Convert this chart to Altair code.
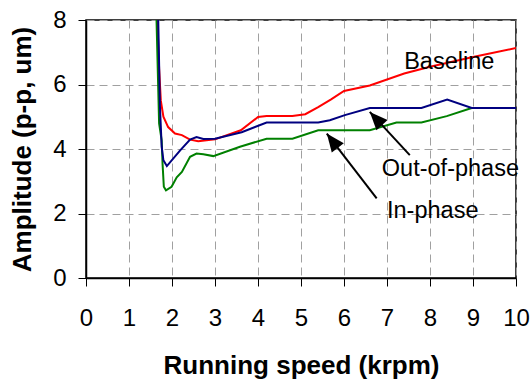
import math
import altair as alt
import pandas as pd

# Series values
red_x = [1.64, 1.66, 1.70, 1.74, 1.80, 1.91, 2.07, 2.23, 2.42, 2.61, 3.0, 3.6, 4.0, 4.2, 4.8, 5.1, 5.4, 5.7, 6.0, 6.6, 7.4, 8.0, 9.0, 10.0]
red_y = [8.6, 8.0, 6.5, 5.5, 5.0, 4.68, 4.48, 4.43, 4.29, 4.24, 4.30, 4.58, 4.99, 5.02, 5.02, 5.08, 5.3, 5.54, 5.8, 5.97, 6.34, 6.55, 6.85, 7.13]

blue_x = [1.66, 1.68, 1.72, 1.76, 1.80, 1.88, 2.19, 2.42, 2.57, 2.73, 3.0, 3.62, 4.2, 5.4, 5.67, 6.02, 6.6, 7.8, 8.4, 8.97, 10.0]
blue_y = [8.6, 8.0, 5.3, 4.07, 3.65, 3.47, 3.96, 4.29, 4.37, 4.31, 4.32, 4.52, 4.82, 4.82, 4.89, 5.05, 5.27, 5.27, 5.53, 5.27, 5.27]

green_x = [1.62, 1.64, 1.70, 1.76, 1.78, 1.81, 1.86, 1.99, 2.11, 2.23, 2.42, 2.57, 2.73, 2.96, 3.58, 4.2, 4.8, 5.4, 6.6, 7.22, 7.8, 8.39, 8.97]
green_y = [8.6, 8.0, 4.79, 4.27, 3.55, 2.83, 2.72, 2.83, 3.12, 3.29, 3.76, 3.86, 3.84, 3.78, 4.07, 4.32, 4.32, 4.58, 4.58, 4.82, 4.82, 5.02, 5.27]

x_ticks = [0, 1, 2, 3, 4, 5, 6, 7, 8, 9, 10]
y_ticks = [0, 2, 4, 6, 8]

label_text = ["Baseline", "Out-of-phase", "In-phase"]
label_x = [7.40, 6.88, 7.00]
label_y = [6.69, 3.37, 2.07]

arrow_tail_x = [7.53, 6.76]
arrow_tail_y = [3.81, 2.47]
arrow_head_x = [6.60, 5.60]
arrow_head_y = [5.15, 4.48]

W, H = 430, 258
XDOM, YDOM = [0, 10], [0, 8]

def series_df(xs, ys, name):
    return pd.DataFrame({"speed": xs, "amp": ys, "series": name})

xs = alt.Scale(domain=XDOM, nice=False, zero=False)
ys = alt.Scale(domain=YDOM, nice=False, zero=False)

x_enc = alt.X("speed:Q", scale=xs,
              axis=alt.Axis(values=x_ticks, title="Running speed (krpm)", labelFlush=False,
                            labelOverlap=False, labelPadding=20, titlePadding=22))
y_enc = alt.Y("amp:Q", scale=ys,
              axis=alt.Axis(values=y_ticks, title="Amplitude (p-p, um)", labelPadding=12,
                            titlePadding=17))

def line_layer(xv, yv, name, color):
    return alt.Chart(series_df(xv, yv, name)).mark_line(
        color=color, strokeWidth=2, clip=True
    ).encode(x=x_enc, y=y_enc)

red = line_layer(red_x, red_y, "Baseline", "#ff0000")
green = line_layer(green_x, green_y, "In-phase", "#008000")
blue = line_layer(blue_x, blue_y, "Out-of-phase", "#000080")

labels_df = pd.DataFrame({"label": label_text, "speed": label_x, "amp": label_y})
labels = alt.Chart(labels_df).mark_text(
    align="left", baseline="middle", fontSize=23.5, font="Liberation Sans", color="black"
).encode(x=alt.X("speed:Q", scale=xs), y=alt.Y("amp:Q", scale=ys), text="label:N")

px_x = W / (XDOM[1] - XDOM[0])
px_y = H / (YDOM[1] - YDOM[0])
angles = []
for tx, ty, hx, hy in zip(arrow_tail_x, arrow_tail_y, arrow_head_x, arrow_head_y):
    dx = (hx - tx) * px_x
    dy = -(hy - ty) * px_y
    angles.append(math.degrees(math.atan2(dx, -dy)) % 360)

arrows_df = pd.DataFrame({
    "tx": arrow_tail_x, "ty": arrow_tail_y,
    "hx": arrow_head_x, "hy": arrow_head_y, "ang": angles,
})
shafts = alt.Chart(arrows_df).mark_rule(color="black", strokeWidth=2).encode(
    x=alt.X("tx:Q", scale=xs), y=alt.Y("ty:Q", scale=ys), x2="hx:Q", y2="hy:Q"
)
heads = alt.Chart(arrows_df).mark_point(
    shape="M0,0L-0.42,1L0.42,1Z", filled=True, color="black", opacity=1, size=1300, strokeWidth=0
).encode(
    x=alt.X("hx:Q", scale=xs), y=alt.Y("hy:Q", scale=ys), angle=alt.Angle("ang:Q", scale=None)
)

chart = alt.layer(red, green, blue, shafts, heads, labels).properties(
    width=W, height=H,
    padding={"left": 86, "top": 20, "right": 16, "bottom": 106},
    autosize=alt.AutoSizeParams(type="none"),
    background="white",
).configure_view(
    stroke="black", strokeWidth=1.5
).configure_axis(
    grid=True, gridColor="#a0a0a0", gridDash=[8, 5], gridWidth=1,
    domainColor="black", domainWidth=1.5, tickColor="black", tickSize=8, tickWidth=1,
    labelFont="Liberation Sans", labelFontSize=24, labelColor="black",
    titleFont="Liberation Sans", titleFontSize=26, titleFontWeight="bold", titleColor="black",
)

chart.save("out.html", embed_options={"renderer": "svg", "actions": False})
